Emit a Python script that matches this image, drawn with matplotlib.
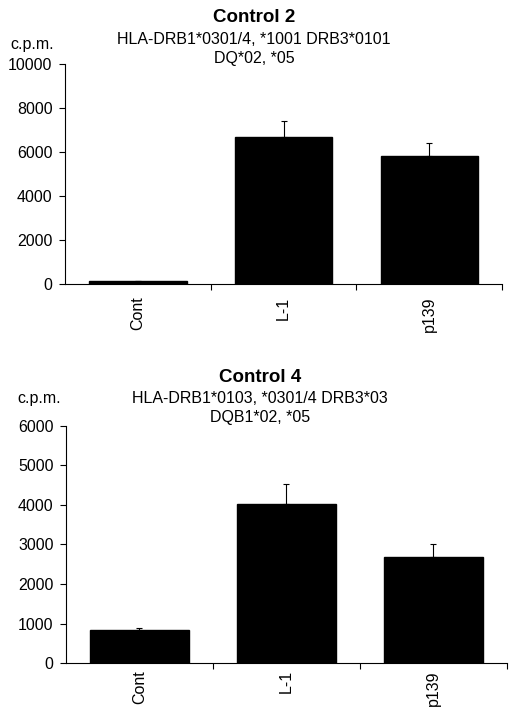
import matplotlib
matplotlib.use("Agg")
import matplotlib.pyplot as plt

plt.rcParams['font.family'] = ['Liberation Sans', 'DejaVu Sans']

# data
categories = ["Cont", "L-1", "p139"]

ctrl2_values = [120, 6700, 5800]
ctrl2_errors = [0, 720, 620]

ctrl4_values = [850, 4030, 2680]
ctrl4_errors = [30, 500, 320]

panels = [
    {"title": "Control 2",
     "sub": "HLA-DRB1*0301/4, *1001 DRB3*0101\nDQ*02, *05",
     "values": ctrl2_values, "errors": ctrl2_errors,
     "ymax": 10000, "yticks": [0, 2000, 4000, 6000, 8000, 10000],
     "rect": [0.1277, 0.5994, 0.859, 0.3103],
     "title_y": 1 - 18 / 709, "sub_y": 1 - 32 / 709, "cpm": (10 / 509, 1 - 45 / 709),
     "tx": 254 / 509, "xpad": 9},
    {"title": "Control 4",
     "sub": "HLA-DRB1*0103, *0301/4 DRB3*03\nDQB1*02, *05",
     "values": ctrl4_values, "errors": ctrl4_errors,
     "ymax": 6000, "yticks": [0, 1000, 2000, 3000, 4000, 5000, 6000],
     "rect": [0.1297, 0.0645, 0.866, 0.3351],
     "title_y": 1 - 378 / 709, "sub_y": 1 - 391 / 709, "cpm": (17 / 509, 1 - 399 / 709),
     "tx": 260 / 509, "xpad": 5},
]

fig = plt.figure(figsize=(5.09, 7.09), dpi=100)

for p in panels:
    ax = fig.add_axes(p["rect"])
    x = range(len(categories))
    ax.bar(x, p["values"], width=0.67, color="black", edgecolor="black")
    ax.errorbar(x, p["values"], yerr=[[0] * 3, p["errors"]], fmt="none",
                ecolor="black", elinewidth=0.8, capsize=2, capthick=0.8)
    ax.set_xlim(-0.5, 2.5)
    ax.set_ylim(0, p["ymax"])
    ax.set_yticks(p["yticks"])
    ax.set_xticks(list(x))
    ax.set_xticklabels(categories, rotation=90, fontsize=11.5)
    ax.set_xticks([0.5, 1.5, 2.5], minor=True)
    ax.tick_params(axis="x", which="major", length=0, pad=p["xpad"])
    ax.tick_params(axis="x", which="minor", length=4, width=0.8, direction="out")
    ax.tick_params(axis="y", length=4, width=0.8, direction="out", labelsize=11.5, pad=5)
    for s in ["top", "right"]:
        ax.spines[s].set_visible(False)
    for s in ["left", "bottom"]:
        ax.spines[s].set_linewidth(0.8)

    fig.text(p["tx"], p["title_y"], p["title"], ha="center", va="center",
             fontsize=13.5, fontweight="bold")
    fig.text(p["tx"], p["sub_y"], p["sub"], ha="center", va="top",
             fontsize=11.5, linespacing=1.3)
    fig.text(p["cpm"][0], p["cpm"][1], "c.p.m.", ha="left", va="center", fontsize=11.5)

fig.savefig("out.png", dpi=100)
